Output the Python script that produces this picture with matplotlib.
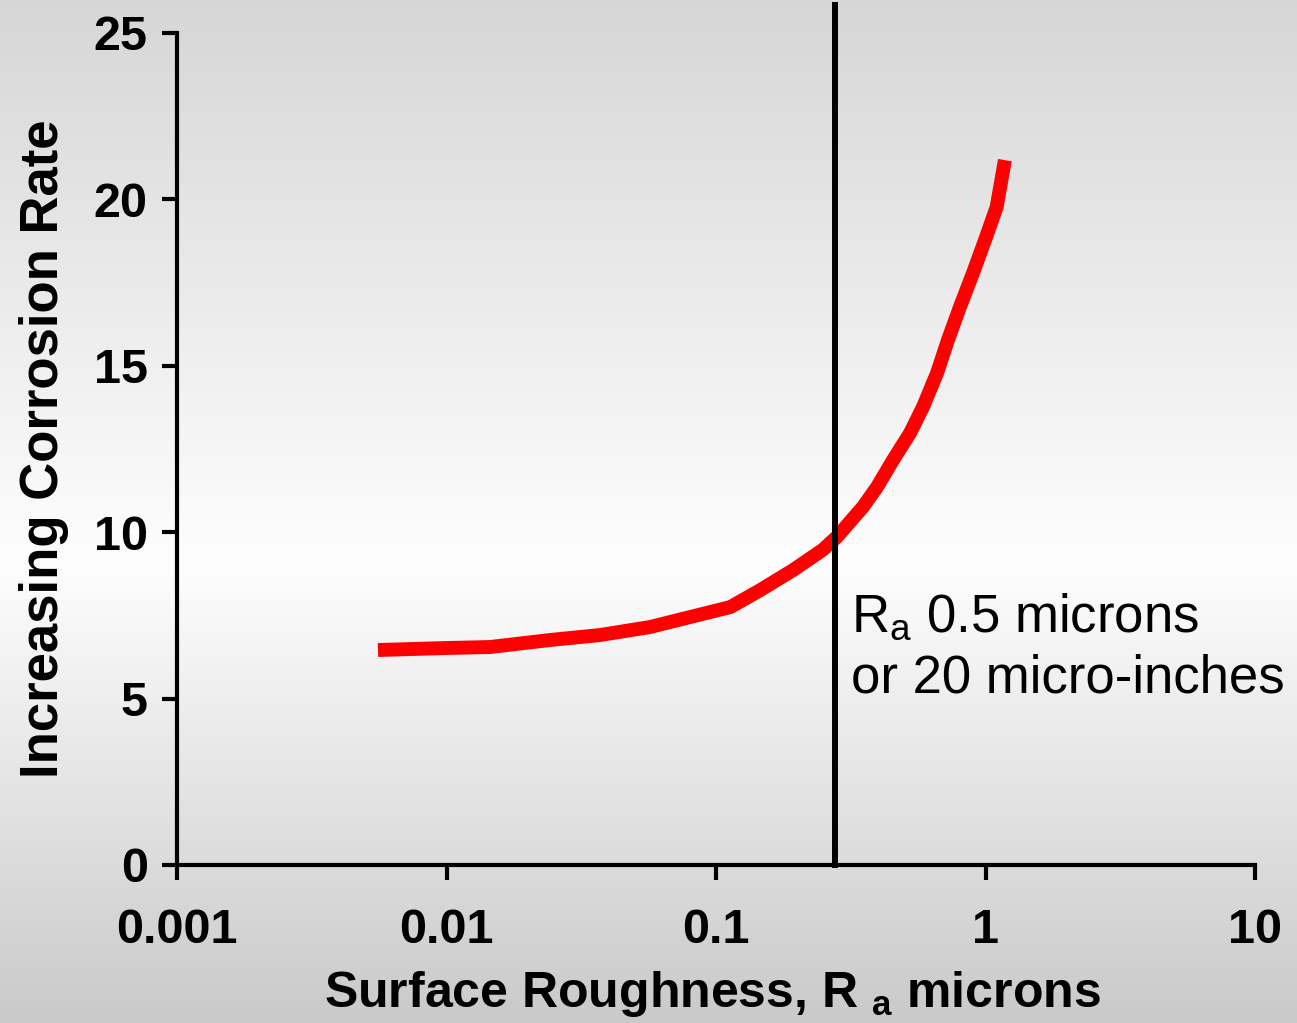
import numpy as np
import matplotlib
matplotlib.use("Agg")
import matplotlib.pyplot as plt

plt.rcParams["font.family"] = "Liberation Sans"
plt.rcParams["mathtext.fontset"] = "custom"
plt.rcParams["mathtext.rm"] = "Liberation Sans"
plt.rcParams["mathtext.bf"] = "Liberation Sans:bold"

# surface roughness Ra (microns) vs corrosion rate
roughness = [0.00557, 0.0100, 0.0145, 0.0242, 0.0371, 0.0569, 0.0801, 0.113,
             0.146, 0.193, 0.249, 0.281, 0.351, 0.396, 0.454, 0.525, 0.586,
             0.661, 0.726, 0.804, 0.899, 0.996, 1.10, 1.18]
rate = [6.46, 6.52, 6.55, 6.76, 6.91, 7.15, 7.45, 7.75,
        8.26, 8.86, 9.47, 9.86, 10.76, 11.36, 12.17, 12.98, 13.76,
        14.78, 15.78, 16.77, 17.79, 18.78, 19.77, 21.18]
marker_x = 0.276

xticks = [0.001, 0.01, 0.1, 1, 10]
xticklabels = ["0.001", "0.01", "0.1", "1", "10"]
yticks = [0, 5, 10, 15, 20, 25]

fig = plt.figure(figsize=(12.97, 10.23), dpi=100)

# gray -> white -> gray backdrop
bg = fig.add_axes([0, 0, 1, 1], zorder=-10)
t = np.linspace(0, 1, 512)
shade = np.interp(t, [0, 0.55, 1], [0.84, 0.995, 0.79])
img = np.repeat(shade[:, None, None], 3, axis=2).repeat(4, axis=1)
bg.imshow(img, aspect="auto", extent=[0, 1, 0, 1], origin="upper")
bg.axis("off")

ax = fig.add_axes([177 / 1297, 1 - 865 / 1023, (1255 - 177) / 1297, (865 - 33) / 1023])
ax.set_facecolor("none")

ax.plot(roughness, rate, color="#ff0000", lw=10, solid_capstyle="butt",
        solid_joinstyle="round", zorder=3)
ax.axvline(marker_x, ymin=0, ymax=25.85 / 25, color="black", lw=4.3,
           clip_on=False, zorder=4)

ax.set_xscale("log")
ax.set_xlim(0.001, 10)
ax.set_ylim(0, 25)
ax.set_xticks(xticks)
ax.set_xticklabels(xticklabels)
ax.xaxis.set_minor_locator(matplotlib.ticker.NullLocator())
ax.set_yticks(yticks)

for side in ["top", "right"]:
    ax.spines[side].set_visible(False)
for side in ["left", "bottom"]:
    ax.spines[side].set_linewidth(3)

ax.tick_params(axis="both", width=3, length=11, direction="out",
               labelsize=35)
ax.tick_params(axis="x", pad=20)
ax.tick_params(axis="y", pad=10)
for lab in ax.get_xticklabels() + ax.get_yticklabels():
    lab.set_fontweight("bold")

ax.set_xlabel(r"Surface Roughness, R ${}_{\mathbf{a}}$ microns",
              fontsize=36, fontweight="bold")
ax.xaxis.set_label_coords(0.497, -0.125)
ax.set_ylabel("Increasing Corrosion Rate", fontsize=38, fontweight="bold")
ax.yaxis.set_label_coords(-0.1, 0.5)

ax.text(0.318, 8.2, "R$_{\\mathrm{a}}$ 0.5 microns\nor 20 micro-inches",
        fontsize=38, ha="left", va="top", linespacing=1.27)

fig.savefig("out.png", dpi=100)
